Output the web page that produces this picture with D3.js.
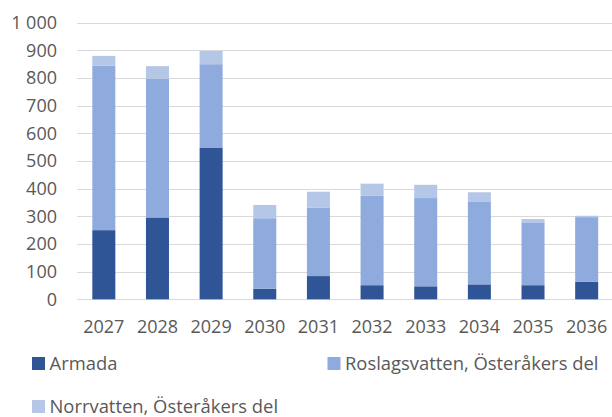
<!DOCTYPE html>
<html><head><meta charset="utf-8">
<script src="https://cdn.jsdelivr.net/npm/d3@7"></script>
<style>html,body{margin:0;padding:0;background:#fff;}svg{display:block;}</style>
</head><body>
<svg id="c" width="612" height="417"></svg>
<script>
const years = ["2027","2028","2029","2030","2031","2032","2033","2034","2035","2036"];
const armada = [250, 296, 547, 38, 84, 51, 47, 54, 51, 63];
const roslagsvatten = [594, 501, 303, 255, 248, 323, 319, 300, 227, 234];
const norrvatten = [36, 46, 48, 48, 57, 44, 48, 33, 12, 5];
const seriesNames = ["Armada", "Roslagsvatten, Österåkers del", "Norrvatten, Österåkers del"];
const yTicks = [0,100,200,300,400,500,600,700,800,900,1000];

const colors = ["#2F5597", "#8FAADC", "#B4C7E7"];
const font = "'Open Sans', sans-serif";
const svg = d3.select("#c");

const x = d3.scaleBand().domain(years).range([77, 613.5]).paddingInner(0.571).paddingOuter(0.2855);
const y = d3.scaleLinear().domain([0, 1000]).range([299.3, 22.7]);

const locale = d3.formatLocale({decimal: ",", thousands: "\u00a0", grouping: [3], currency: ["", " kr"]});
const fmt = locale.format(",d");

// gridlines
svg.append("g").selectAll("line").data(yTicks).join("line")
  .attr("x1", 77).attr("x2", 612)
  .attr("y1", d => Math.round(y(d)) + 0.5).attr("y2", d => Math.round(y(d)) + 0.5)
  .attr("stroke", "#D9D9D9").attr("stroke-width", 1.2);

// y labels
svg.append("g").selectAll("text").data(yTicks).join("text")
  .attr("x", 57).attr("y", d => y(d)).attr("dy", "0.35em")
  .attr("text-anchor", "end").attr("fill", "#595959")
  .style("font-family", font).style("font-size", "18px")
  .text(d => fmt(d));

// stacked data
const table = years.map((yr, i) => ({year: yr, a: armada[i], r: roslagsvatten[i], n: norrvatten[i]}));
const stack = d3.stack().keys(["a","r","n"])(table);

svg.append("g").selectAll("g").data(stack).join("g")
  .attr("fill", (d, i) => colors[i])
  .selectAll("rect").data(d => d).join("rect")
  .attr("x", d => x(d.data.year))
  .attr("width", x.bandwidth())
  .attr("y", d => y(d[1]))
  .attr("height", d => y(d[0]) - y(d[1]));

// x labels
svg.append("g").selectAll("text").data(years).join("text")
  .attr("x", d => x(d) + x.bandwidth() / 2).attr("y", 327).attr("dy", "0.35em")
  .attr("text-anchor", "middle").attr("fill", "#595959")
  .style("font-family", font).style("font-size", "18px")
  .text(d => d);

// legend
const legPos = [[32, 363.5], [327.5, 363.5], [32, 406.5]];
const leg = svg.append("g").selectAll("g").data(seriesNames).join("g")
  .attr("transform", (d, i) => `translate(${legPos[i][0]},${legPos[i][1]})`);
leg.append("rect").attr("x", 0).attr("y", -6.5).attr("width", 13).attr("height", 13)
  .attr("fill", (d, i) => colors[i]);
leg.append("text").attr("x", 17.5).attr("y", 0).attr("dy", "0.35em")
  .attr("fill", "#595959").style("font-family", font).style("font-size", "18.4px")
  .text(d => d);
</script>
</body></html>
